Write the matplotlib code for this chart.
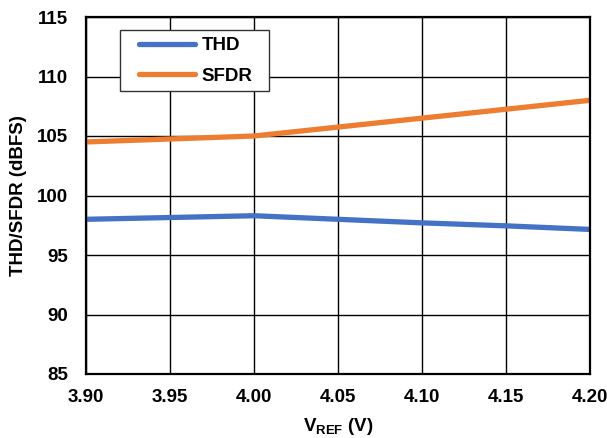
import matplotlib
matplotlib.use("Agg")
import matplotlib.pyplot as plt
from matplotlib.patches import Rectangle

vref = [3.90, 3.95, 4.00, 4.05, 4.10, 4.15, 4.20]
thd = [98.0, 98.15, 98.3, 98.0, 97.7, 97.45, 97.15]
sfdr = [104.5, 104.75, 105.0, 105.75, 106.5, 107.25, 108.0]
xticks = [3.90, 3.95, 4.00, 4.05, 4.10, 4.15, 4.20]
yticks = [85, 90, 95, 100, 105, 110, 115]

plt.rcParams['font.family'] = ['Liberation Sans', 'DejaVu Sans']
plt.rcParams['font.weight'] = 'bold'
plt.rcParams['mathtext.fontset'] = 'custom'
plt.rcParams['mathtext.rm'] = 'Liberation Sans:bold'
plt.rcParams['mathtext.bf'] = 'Liberation Sans:bold'
plt.rcParams['mathtext.it'] = 'Liberation Sans:bold'

FS = 13.5
fig = plt.figure(figsize=(6.07, 4.38), dpi=100)
ax = fig.add_axes([86/607, 64/438, 504/607, 357/438])

ax.plot(vref, thd, color='#4472C4', lw=3.8, label='THD', solid_capstyle='round')
ax.plot(vref, sfdr, color='#ED7D31', lw=3.8, label='SFDR', solid_capstyle='round')

ax.set_xlim(3.90, 4.20)
ax.set_ylim(85, 115)
ax.set_xticks(xticks)
ax.set_xticklabels([f"{v:.2f}" for v in xticks])
ax.set_yticks(yticks)
ax.grid(True, color='black', lw=1.0)
ax.set_axisbelow(True)
for s in ax.spines.values():
    s.set_color('black')
    s.set_linewidth(1.6)
ax.tick_params(axis='y', length=0, labelsize=FS, pad=13)
ax.tick_params(axis='x', length=0, labelsize=FS, pad=11)
for lab in ax.get_xticklabels() + ax.get_yticklabels():
    lab.set_fontweight('bold')

ax.set_xlabel(r'$\mathrm{V_{REF}}$ (V)', fontsize=FS, fontweight='bold', labelpad=7)
ax.set_ylabel('THD/SFDR (dBFS)', fontsize=FS, fontweight='bold', labelpad=7)

# legend frame (drawn manually to match proportions)
ax.add_patch(Rectangle((34/504, (374-91)/357), 149/504, 61/357, transform=ax.transAxes,
                       facecolor='white', edgecolor='#333333', lw=1.0, zorder=4))
leg = ax.legend(loc='upper left', bbox_to_anchor=(53/504, (374-37)/357), frameon=False,
                prop={'weight': 'bold', 'size': FS}, handlelength=3.0,
                labelspacing=0.72, borderpad=0, borderaxespad=0, handletextpad=0.35)
leg.set_zorder(5)

fig.savefig('out.png', dpi=100)
